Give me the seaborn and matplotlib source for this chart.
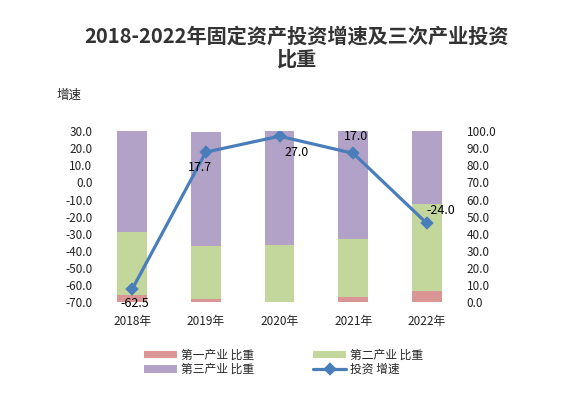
import seaborn as sns
import matplotlib.pyplot as plt
import pandas as pd

years = ["2018年", "2019年", "2020年", "2021年", "2022年"]
primary = [4.3, 1.8, 0.3, 3.1, 6.4]
secondary = [36.6, 30.9, 33.0, 33.7, 51.1]
tertiary = [59.1, 66.7, 66.7, 63.2, 42.5]
growth = [-62.5, 17.7, 27.0, 17.0, -24.0]

sns.set_theme(style="white")
plt.rcParams['font.family'] = ['Noto Sans CJK SC', 'DejaVu Sans']

df = pd.DataFrame({"year": years, "p": primary, "s": secondary, "t": tertiary})
df["ps"] = df["p"] + df["s"]
df["pst"] = df["ps"] + df["t"]

fig = plt.figure(figsize=(5.67, 3.96), dpi=100)
ax2 = fig.add_axes([0.168, 0.237, 0.650, 0.432])  # bars, right axis
ax = ax2.twinx()  # line, moved to left
ax.yaxis.tick_left()
ax2.yaxis.tick_right()

c_p, c_s, c_t = "#d99694", "#c3d69b", "#b3a2c7"
c_line = "#4a7ebb"

bar_kw = dict(width=0.4, saturation=1, ax=ax2, linewidth=0, edgecolor="none")
sns.barplot(data=df, x="year", y="pst", color=c_t, label="第三产业 比重", **bar_kw)
sns.barplot(data=df, x="year", y="ps", color=c_s, label="第二产业 比重", **bar_kw)
sns.barplot(data=df, x="year", y="p", color=c_p, label="第一产业 比重", **bar_kw)
ax2.set_ylim(0, 100)
ax2.set_yticks(range(0, 101, 10))
ax2.set_yticklabels([f"{v:.1f}" for v in range(0, 101, 10)])

sns.pointplot(x=years, y=growth, color=c_line, markers="D", markersize=5,
              linewidth=2.3, ax=ax, label="投资 增速")
ax.set_ylim(-70, 30)
ax.set_yticks(range(-70, 31, 10))
ax.set_yticklabels([f"{v:.1f}" for v in range(-70, 31, 10)])

offsets = [(2, -10), (-4, -11), (12, -12), (2, 12), (10, 9)]
for i, (v, (dx, dy)) in enumerate(zip(growth, offsets)):
    ax.annotate(f"{v:.1f}", (i, v), xytext=(dx, dy), textcoords="offset points",
                ha="center", va="center", fontsize=9, color="black")

for a in (ax, ax2):
    for s in a.spines.values():
        s.set_visible(False)
    a.set_xlabel("")
    a.set_ylabel("")
    a.tick_params(axis="both", length=0, labelsize=8.5, colors="#222222", pad=2)
    if a.get_legend():
        a.get_legend().remove()
ax2.tick_params(axis="x", pad=9)
ax2.set_xlim(-0.5, 4.5)

fig.text(0.523, 0.88, "2018-2022年固定资产投资增速及三次产业投资\n比重", ha="center", va="center",
         fontsize=14.5, fontweight="bold", color="#333333", linespacing=1.15)
fig.text(0.1, 0.76, "增速", fontsize=9, ha="left", va="center")

h2, l2 = ax2.get_legend_handles_labels()
h1, l1 = ax.get_legend_handles_labels()
hd = dict(zip(l2 + l1, h2 + h1))
order = ["第一产业 比重", "第三产业 比重", "第二产业 比重", "投资 增速"]
fig.legend([hd[k] for k in order], order, ncol=2, loc="center", bbox_to_anchor=(0.5, 0.085),
           frameon=False, fontsize=8.5, handlelength=2.8, handleheight=0.6,
           labelspacing=0.1, columnspacing=5, handletextpad=0.3)

fig.savefig("out.png", dpi=100)
